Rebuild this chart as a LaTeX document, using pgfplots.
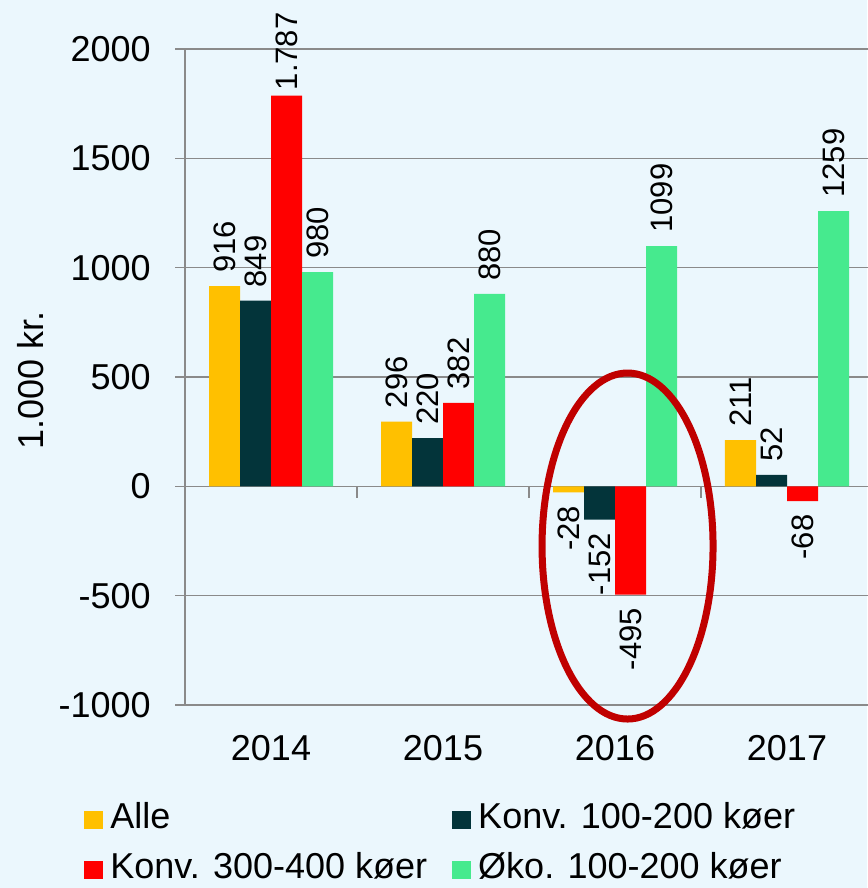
\documentclass[border=0pt]{standalone}
\usepackage{fontspec}
\setmainfont{Liberation Sans}
\usepackage{pgfplots}
\pgfplotsset{compat=1.18}
\definecolor{bgc}{HTML}{EBF7FD}
\definecolor{cAlle}{HTML}{FFC000}
\definecolor{cKonvA}{HTML}{03343A}
\definecolor{cKonvB}{HTML}{FF0000}
\definecolor{cOko}{HTML}{46EA8E}
\definecolor{gridc}{HTML}{8A8A8A}
\definecolor{ring}{HTML}{C00000}
\pgfplotsset{sqlegend/.style={legend image code/.code={\fill[##1,draw=none] (0pt,-6pt) rectangle (9.5pt,3pt); \path (13pt,0pt);}}}
\begin{document}
\begin{tikzpicture}[font=\fontsize{18}{21}\selectfont]
\fill[bgc] (0,0) rectangle (433.5pt,444pt);
\useasboundingbox (0,0) rectangle (433.5pt,444pt);
\begin{axis}[
  at={(92.5pt,91.5pt)}, anchor=south west,
  scale only axis, width=344pt, height=328pt,
  clip=false,
  ybar=0pt, bar width=15.5pt,
  xmin=-0.5, xmax=3.5, ymin=-1000, ymax=2000,
  xtick={0,1,2,3}, xticklabels={2014,2015,2016,2017},
  ytick={-1000,-500,0,500,1000,1500,2000},
  axis x line=bottom, axis y line=left,
  axis line style={-, gridc, line width=0.75pt},
  ymajorgrids, grid style={gridc, line width=0.75pt},
  tick align=outside, major tick length=5pt,
  ytick style={gridc, line width=0.75pt}, xtick style={draw=none},
  /pgf/number format/assume math mode=true,
  /pgf/number format/1000 sep={},
  tick label style={font=\fontsize{18}{21}\selectfont, inner sep=0pt},
  yticklabel style={anchor=east, xshift=-12pt},
  xticklabel style={anchor=center, yshift=-16.5pt},
  ylabel={1.000 kr.},
  ylabel style={at={(axis description cs:-0.225,0.495)}, anchor=center, font=\fontsize{18}{21}\selectfont},
  point meta=explicit symbolic,
  nodes near coords,
  visualization depends on={rawy \as \rawy},
  every node near coord/.append style={rotate=90, inner xsep=6.5pt, inner ysep=0pt, text=black, font=\fontsize{15.5}{18}\selectfont},
  every node near coord/.append code={\ifdim\rawy pt<0pt\pgfkeysalso{/tikz/anchor=east}\else\pgfkeysalso{/tikz/anchor=west}\fi
    \ifdim\rawy pt>1500pt\pgfkeysalso{/tikz/inner xsep=2.5pt}\fi},
  legend style={at={(axis description cs:-0.1468,-0.148)}, anchor=north west, draw=none, fill=none,
    inner sep=0pt, row sep=10.5pt, nodes={inner sep=0pt}, font=\fontsize{18}{21}\selectfont,
    /tikz/every even column/.append style={column sep=12.5pt}},
  legend columns=2, legend cell align=left,
]
\addplot[fill=cAlle, draw=none, sqlegend] coordinates {(0,916)[916] (1,296)[296] (2,-28)[-28] (3,211)[211]};
\addplot[fill=cKonvA, draw=none, sqlegend] coordinates {(0,849)[849] (1,220)[220] (2,-152)[-152] (3,52)[52]};
\addplot[fill=cKonvB, draw=none, sqlegend] coordinates {(0,1787)[1.787] (1,382)[382] (2,-495)[-495] (3,-68)[-68]};
\addplot[fill=cOko, draw=none, sqlegend] coordinates {(0,980)[980] (1,880)[880] (2,1099)[1099] (3,1259)[1259]};
\legend{Alle, Konv. 100-200 køer, Konv. 300-400 køer, Øko. 100-200 køer}
\draw[gridc, line width=0.75pt] (axis cs:0.5,0) -- ([yshift=-6pt]axis cs:0.5,0);
\draw[gridc, line width=0.75pt] (axis cs:1.5,0) -- ([yshift=-6pt]axis cs:1.5,0);
\draw[gridc, line width=0.75pt] (axis cs:2.5,0) -- ([yshift=-6pt]axis cs:2.5,0);
\draw[ring, line width=3.5pt] (axis cs:2.073,-273) ellipse [x radius=42.75pt, y radius=86.5pt];
\end{axis}
\end{tikzpicture}
\end{document}
